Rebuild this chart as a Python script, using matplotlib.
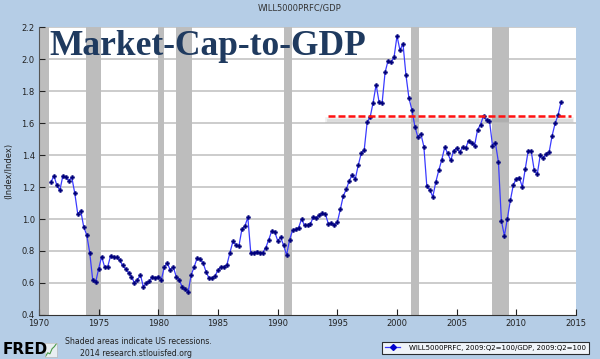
import numpy as np
import matplotlib
matplotlib.use("Agg")
import matplotlib.pyplot as plt
from matplotlib.lines import Line2D

# Ratio WILL5000PRFC / GDP, valeurs trimestrielles depuis 1971:Q1
debut = 1971.0
ratio = [
    1.23, 1.27, 1.21, 1.18, 1.27, 1.26, 1.24, 1.26, 1.16, 1.03, 1.05, 0.95,
    0.90, 0.79, 0.62, 0.605, 0.69, 0.765, 0.70, 0.70, 0.77, 0.76, 0.76, 0.745,
    0.71, 0.69, 0.665, 0.64, 0.60, 0.62, 0.65, 0.575, 0.60, 0.61, 0.64, 0.63,
    0.64, 0.62, 0.70, 0.725, 0.68, 0.70, 0.64, 0.62, 0.575, 0.56, 0.545, 0.65,
    0.70, 0.755, 0.75, 0.725, 0.67, 0.63, 0.63, 0.645, 0.68, 0.70, 0.70, 0.715,
    0.79, 0.86, 0.84, 0.83, 0.935, 0.955, 1.01, 0.785, 0.79, 0.795, 0.79, 0.79,
    0.82, 0.87, 0.925, 0.92, 0.865, 0.885, 0.835, 0.775, 0.87, 0.93, 0.935, 0.945,
    1.00, 0.96, 0.96, 0.97, 1.015, 1.005, 1.025, 1.035, 1.03, 0.97, 0.975, 0.96,
    0.98, 1.06, 1.145, 1.185, 1.24, 1.275, 1.25, 1.335, 1.41, 1.43, 1.605, 1.637,
    1.728, 1.84, 1.73, 1.723, 1.916, 1.99, 1.98, 2.01, 2.144, 2.055, 2.096, 1.90,
    1.756, 1.681, 1.578, 1.511, 1.532, 1.453, 1.204, 1.183, 1.138, 1.231, 1.304, 1.37,
    1.449, 1.41, 1.366, 1.428, 1.443, 1.418, 1.449, 1.443, 1.49, 1.474, 1.459, 1.557,
    1.59, 1.646, 1.619, 1.615, 1.459, 1.474, 1.355, 0.988, 0.895, 1.003, 1.117, 1.214,
    1.252, 1.258, 1.2, 1.314, 1.428, 1.422, 1.304, 1.279, 1.397, 1.38, 1.407, 1.418,
    1.521, 1.598, 1.65, 1.733,
]

# Récessions US (NBER), en années décimales
recessions = [
    (1969.92, 1970.83), (1973.92, 1975.17), (1980.0, 1980.5), (1981.5, 1982.83),
    (1990.5, 1991.17), (2001.17, 2001.83), (2007.92, 2009.42),
]

# Ligne de référence rouge
ref_niveau = 1.646
ref_debut, ref_fin = 1994.2, 2014.6

annees_ticks = [1970, 1975, 1980, 1985, 1990, 1995, 2000, 2005, 2010, 2015]
y_ticks = [0.4, 0.6, 0.8, 1.0, 1.2, 1.4, 1.6, 1.8, 2.0, 2.2]

fond = "#b5cde6"
dates = debut + np.arange(len(ratio)) / 4.0

fig = plt.figure(figsize=(6, 3.59), dpi=100, facecolor=fond)
ax = fig.add_axes([39 / 600, 44 / 359, 537 / 600, 288 / 359])
ax.set_facecolor("white")

for d, f in recessions:
    ax.axvspan(d, f, color="#bdbdbd", lw=0, zorder=1)

for v in y_ticks[1:]:
    ax.axhline(v, color="#cccccc", lw=1.4, zorder=0.5)

# ombre puis ligne rouge
ax.plot([ref_debut, ref_fin], [ref_niveau - 0.026] * 2, color="#909090", lw=4, alpha=0.15, zorder=2)
ax.plot([ref_debut, ref_fin], [ref_niveau - 0.026] * 2, color="#909090", lw=2, alpha=0.2, zorder=2)

ax.plot(dates, ratio, color="#3a3aff", lw=0.9, marker="P", ms=3.0,
        mfc="#00007a", mec="#00007a", mew=0.3, zorder=3)

ax.plot([ref_debut, ref_fin], [ref_niveau] * 2, color="#ff1010", lw=1.8,
        dashes=(2.8, 1.2), zorder=4)

ax.set_xlim(1970, 2015)
ax.set_ylim(0.4, 2.2)
ax.set_xticks(annees_ticks)
ax.set_yticks(y_ticks)
ax.set_yticklabels([f"{v:.1f}" for v in y_ticks])
ax.tick_params(direction="in", length=4, width=0.8, labelsize=6, colors="#222222", pad=3)
for s in ["top", "right"]:
    ax.spines[s].set_visible(False)
ax.spines["left"].set_color("#555555")
ax.spines["bottom"].set_color("#333333")
ax.set_ylabel("(Index/Index)", fontsize=6, color="#222222", labelpad=6)

ax.text(1970.9, 2.025, "Market-Cap-to-GDP", fontsize=25.5, fontweight="bold",
        family="Liberation Serif", color="#1f3a5f", zorder=5)

fig.text(0.5, 1 - 8 / 359, "WILL5000PRFC/GDP", ha="center", va="center",
         fontsize=6, color="#333333")

fig.text(65 / 600, 1 - 342 / 359, "Shaded areas indicate US recessions.",
         fontsize=5.6, color="#222222", va="center")
fig.text(80 / 600, 1 - 353 / 359, "2014 research.stlouisfed.org",
         fontsize=5.6, color="#222222", va="center")
fig.text(3 / 600, 1 - 350 / 359, "FRED", fontsize=11, fontweight="bold",
         color="black", va="center")

# petite icône à côté du logo
icone = fig.add_axes([45 / 600, 1 - 357 / 359, 12 / 600, 14 / 359])
icone.set_facecolor("#e8eef2")
icone.plot([0, 1, 2, 3, 4, 5], [0.5, 1.2, 1.0, 2.0, 2.4, 3.0], color="#4a9a4a", lw=0.8)
icone.set_xticks([])
icone.set_yticks([])
for s in icone.spines.values():
    s.set_color("#c0c0c0")
    s.set_linewidth(0.5)

poignee = Line2D([], [], color="#3a3aff", lw=0.9, marker="D", ms=3,
                 mfc="#0000cc", mec="#0000cc")
leg = fig.legend([poignee], ["WILL5000PRFC, 2009:Q2=100/GDP, 2009:Q2=100"],
                 loc="lower right", bbox_to_anchor=(592 / 600, 2 / 359),
                 fontsize=5, frameon=True, fancybox=False, handlelength=2.2,
                 borderpad=0.4, handletextpad=1.2)
leg.get_frame().set_edgecolor("black")
leg.get_frame().set_linewidth(0.8)

fig.savefig("out.png", dpi=100, facecolor=fond)
